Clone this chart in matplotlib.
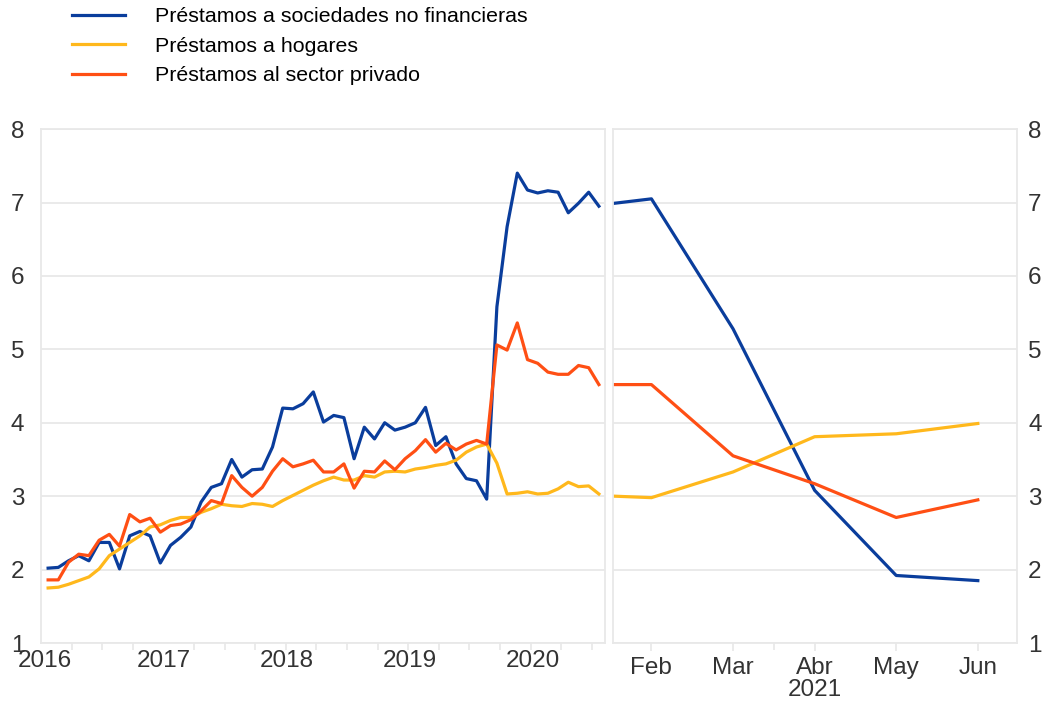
import matplotlib
matplotlib.use("Agg")
import matplotlib.pyplot as plt
import numpy as np

plt.rcParams['font.family'] = ['Liberation Sans', 'DejaVu Sans']

# monthly values, left panel (index 0 = first month shown)
sociedades = [2.02, 2.03, 2.12, 2.19, 2.12, 2.37, 2.37, 2.01, 2.46, 2.52,
              2.46, 2.09, 2.33, 2.44, 2.58, 2.92, 3.12, 3.17, 3.50, 3.26,
              3.36, 3.37, 3.67, 4.20, 4.19, 4.26, 4.42, 4.01, 4.10, 4.07,
              3.51, 3.94, 3.78, 4.00, 3.90, 3.94, 4.00, 4.21, 3.69, 3.81,
              3.44, 3.24, 3.21, 2.96, 5.58, 6.67, 7.40, 7.17, 7.13, 7.16,
              7.14, 6.86, 6.99, 7.14, 6.95]
hogares = [1.75, 1.76, 1.80, 1.85, 1.90, 2.01, 2.19, 2.28, 2.37, 2.46,
           2.58, 2.61, 2.67, 2.71, 2.71, 2.78, 2.83, 2.89, 2.87, 2.86,
           2.90, 2.89, 2.86, 2.94, 3.01, 3.08, 3.15, 3.21, 3.26, 3.22,
           3.22, 3.28, 3.26, 3.33, 3.34, 3.33, 3.37, 3.39, 3.42, 3.44,
           3.49, 3.60, 3.67, 3.71, 3.45, 3.03, 3.04, 3.06, 3.03, 3.04,
           3.10, 3.19, 3.13, 3.14, 3.03]
privado = [1.86, 1.86, 2.10, 2.21, 2.19, 2.40, 2.48, 2.32, 2.75, 2.65,
           2.70, 2.51, 2.60, 2.62, 2.68, 2.80, 2.94, 2.90, 3.28, 3.12,
           3.00, 3.12, 3.34, 3.51, 3.40, 3.44, 3.49, 3.33, 3.33, 3.44,
           3.11, 3.34, 3.33, 3.48, 3.36, 3.51, 3.62, 3.77, 3.60, 3.72,
           3.63, 3.71, 3.76, 3.71, 5.06, 4.99, 5.36, 4.86, 4.81, 4.69,
           4.66, 4.66, 4.78, 4.75, 4.52]
years = ['2016', '2017', '2018', '2019', '2020']
year_pos = [-0.3, 11.3, 23.4, 35.5, 47.5]

# right panel, 2021
meses = ['Feb', 'Mar', 'Abr', 'May', 'Jun']
mes_x = [0.55, 1, 2, 3, 4, 5]
sociedades_21 = [6.99, 7.05, 5.28, 3.08, 1.92, 1.85]
hogares_21 = [3.00, 2.98, 3.33, 3.81, 3.85, 3.99]
privado_21 = [4.52, 4.52, 3.55, 3.17, 2.71, 2.95]

azul = '#0a3d9c'
amarillo = '#ffb81c'
naranja = '#ff4f14'
gris = '#e8e8e8'
lw = 2.3

fig = plt.figure(figsize=(10.48, 7.05), dpi=100)
ax1 = fig.add_axes([0.0391, 0.0879, 0.5382, 0.729])
ax2 = fig.add_axes([0.585, 0.0879, 0.3854, 0.729])

x = np.arange(len(sociedades))
l1, = ax1.plot(x, sociedades, color=azul, lw=lw)
l2, = ax1.plot(x, hogares, color=amarillo, lw=lw)
l3, = ax1.plot(x, privado, color=naranja, lw=lw)
# orange drawn over the others
l3.set_zorder(3)

ax2.plot(mes_x, sociedades_21, color=azul, lw=lw)
ax2.plot(mes_x, hogares_21, color=amarillo, lw=lw)
ax2.plot(mes_x, privado_21, color=naranja, lw=lw)

for ax in (ax1, ax2):
    ax.set_ylim(1, 8)
    ax.set_yticks(range(1, 9))
    ax.grid(axis='y', color=gris, lw=1.3)
    ax.set_axisbelow(True)
    for s in ax.spines.values():
        s.set_color(gris)
        s.set_linewidth(1.3)
    ax.tick_params(axis='y', length=0, labelsize=17.5, colors='#333333', pad=10)
    ax.tick_params(axis='x', which='both', colors=gris, labelcolor='#333333',
                   labelsize=17.5, length=6, width=1.2)
    ax.tick_params(axis='x', which='minor', length=5)

ax1.set_xlim(-0.7, 54.6)
ax1.set_xticks(year_pos)
ax1.set_xticklabels(years)
ax1.tick_params(axis='x', length=0, pad=5)
ax1.set_xticks(np.arange(2.3, 54, 3), minor=True)
ax1.tick_params(axis='y', pad=12)

ax2.set_xlim(0.53, 5.48)
ax2.set_xticks(range(1, 6))
ax2.set_xticklabels(meses)
ax2.set_xticks([2.5], minor=True)
ax2.tick_params(axis='x', pad=4)
ax2.yaxis.tick_right()
ax2.tick_params(axis='y', labelleft=False, labelright=True, pad=8)
ax2.text(3.0, -0.092, '2021', transform=ax2.get_xaxis_transform(),
         ha='center', va='center', fontsize=17.5, color='#333333')

fig.legend([l1, l2, l3],
           ['Préstamos a sociedades no financieras', 'Préstamos a hogares',
            'Préstamos al sector privado'],
           loc='upper left', bbox_to_anchor=(72 / 1048, 1 - 7 / 705),
           frameon=False, fontsize=15.4, handlelength=2.5, handletextpad=1.4,
           labelspacing=0.5, borderpad=0, borderaxespad=0)

fig.savefig('out.png', dpi=100)
